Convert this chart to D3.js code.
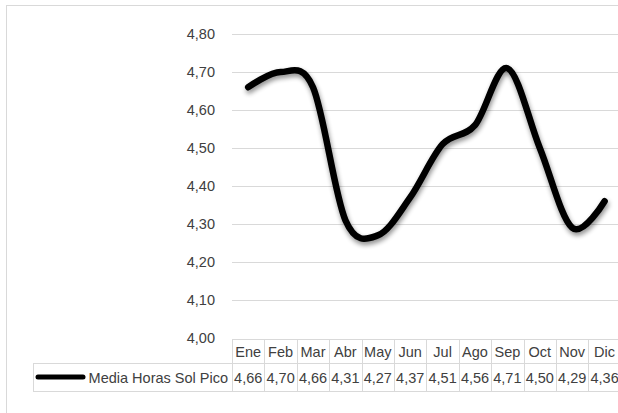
<!DOCTYPE html>
<html>
<head>
<meta charset="utf-8">
<script src="https://cdn.jsdelivr.net/npm/d3@7"></script>
<style>
  body { margin: 0; background: #fff; }
  text { font-family: "Liberation Sans Narrow", "Arial Narrow", "Liberation Sans", Arial, sans-serif; fill: #404040; }
</style>
</head>
<body>
<svg id="chart" width="618" height="413"></svg>
<script>
// datos
var meses = ["Ene","Feb","Mar","Abr","May","Jun","Jul","Ago","Sep","Oct","Nov","Dic"];
var horasSol = [4.66,4.70,4.66,4.31,4.27,4.37,4.51,4.56,4.71,4.50,4.29,4.36];
var serieNombre = "Media Horas Sol Pico";
var yTicks = [4.00,4.10,4.20,4.30,4.40,4.50,4.60,4.70,4.80];

var svg = d3.select("#chart");
var fmt = function(v) { return d3.format(".2f")(v).replace(".", ","); };

// chart area border
svg.append("rect")
  .attr("x", 6.5).attr("y", 5.5)
  .attr("width", 640).attr("height", 440)
  .attr("fill", "none").attr("stroke", "#d9d9d9");

var left = 232, colW = 32.4;
var x = d3.scaleBand().domain(meses).range([left, left + colW * meses.length]);
var y = d3.scaleLinear().domain([4.0, 4.8]).range([338, 34]);

// gridlines
svg.append("g").selectAll("line")
  .data(yTicks.slice(1))
  .enter().append("line")
  .attr("x1", left).attr("x2", 640)
  .attr("y1", function(d) { return Math.round(y(d)) + 0.5; })
  .attr("y2", function(d) { return Math.round(y(d)) + 0.5; })
  .attr("stroke", "#d9d9d9").attr("stroke-width", 1);

// y labels
svg.append("g").selectAll("text")
  .data(yTicks)
  .enter().append("text")
  .attr("x", 215)
  .attr("y", function(d) { return y(d) + 5; })
  .attr("text-anchor", "end")
  .attr("font-size", "14.5px")
  .text(fmt);

// data table
var tTop = 339, tMid = 363, tBot = 391, tLeft = 33, tRight = left + colW * meses.length;
var table = svg.append("g").attr("stroke", "#d9d9d9").attr("stroke-width", 1);
table.append("line").attr("x1", left).attr("x2", tRight).attr("y1", tTop + 0.5).attr("y2", tTop + 0.5);
table.append("line").attr("x1", tLeft).attr("x2", tRight).attr("y1", tMid + 0.5).attr("y2", tMid + 0.5);
table.append("line").attr("x1", tLeft).attr("x2", tRight).attr("y1", tBot + 0.5).attr("y2", tBot + 0.5);
table.append("line").attr("x1", tLeft + 0.5).attr("x2", tLeft + 0.5).attr("y1", tMid).attr("y2", tBot);
table.selectAll(".col")
  .data(d3.range(meses.length + 1))
  .enter().append("line")
  .attr("x1", function(i) { return Math.round(left + i * colW) + 0.5; })
  .attr("x2", function(i) { return Math.round(left + i * colW) + 0.5; })
  .attr("y1", tTop).attr("y2", tBot);

svg.append("g").selectAll("text")
  .data(meses)
  .enter().append("text")
  .attr("x", function(d) { return x(d) + x.bandwidth() / 2; })
  .attr("y", 357)
  .attr("text-anchor", "middle")
  .attr("font-size", "14.5px")
  .text(function(d) { return d; });

svg.append("g").selectAll("text")
  .data(horasSol)
  .enter().append("text")
  .attr("x", function(d, i) { return x(meses[i]) + x.bandwidth() / 2; })
  .attr("y", 383)
  .attr("text-anchor", "middle")
  .attr("font-size", "14.5px")
  .text(fmt);

svg.append("line")
  .attr("x1", 38).attr("x2", 83).attr("y1", 377).attr("y2", 377)
  .attr("stroke", "#000").attr("stroke-width", 5).attr("stroke-linecap", "round");
svg.append("text")
  .attr("x", 228).attr("y", 383)
  .attr("text-anchor", "end")
  .attr("font-size", "14.5px")
  .text(serieNombre);

// shadow
var defs = svg.append("defs");
var f = defs.append("filter").attr("id", "sombra").attr("x", "-10%").attr("y", "-10%").attr("width", "120%").attr("height", "130%");
f.append("feGaussianBlur").attr("in", "SourceAlpha").attr("stdDeviation", 2.5);
f.append("feOffset").attr("dx", 1).attr("dy", 3).attr("result", "b");
f.append("feComponentTransfer").append("feFuncA").attr("type", "linear").attr("slope", 0.45);
var fm = f.append("feMerge");
fm.append("feMergeNode");
fm.append("feMergeNode").attr("in", "SourceGraphic");

var line = d3.line()
  .x(function(d, i) { return x(meses[i]) + x.bandwidth() / 2; })
  .y(function(d) { return y(d); })
  .curve(d3.curveCardinal.tension(0));

svg.append("path")
  .datum(horasSol)
  .attr("d", line)
  .attr("fill", "none")
  .attr("stroke", "#000")
  .attr("stroke-width", 6.5)
  .attr("stroke-linecap", "round")
  .attr("stroke-linejoin", "round")
  .attr("filter", "url(#sombra)");
</script>
</body>
</html>
